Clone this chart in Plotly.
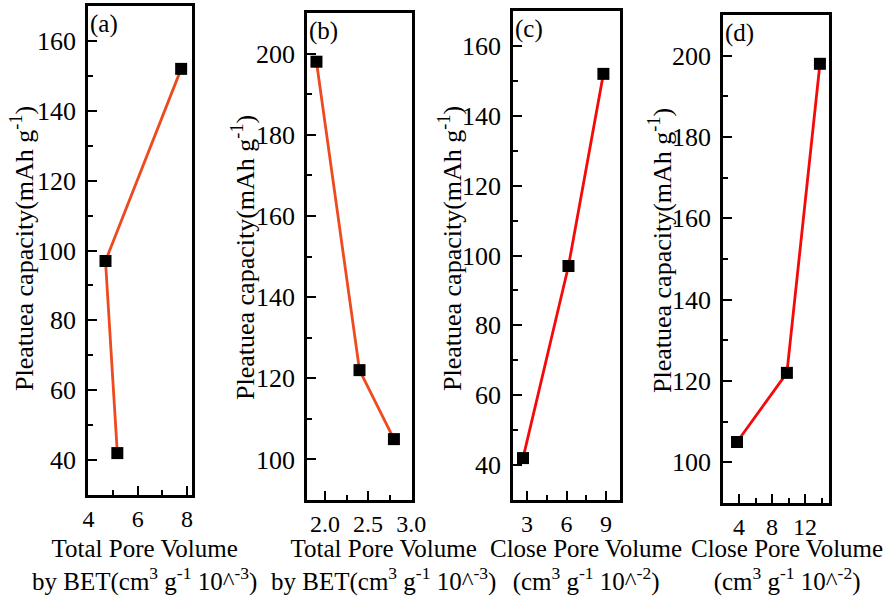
import plotly.graph_objects as go

# ---- data ----
a_x = [5.17, 4.69, 7.76]
a_y = [42, 97, 152]
b_x = [1.90, 2.40, 2.80]
b_y = [198, 122, 105]
c_x = [2.70, 6.15, 8.80]
c_y = [42, 97, 152]
d_x = [3.76, 9.80, 13.80]
d_y = [105, 122, 198]

panel_labels = ["(a)", "(b)", "(c)", "(d)"]
y_title = "Pleatuea capacity(mAh g<sup>-1</sup>)"
x_titles = [
    "Total Pore Volume<br>by BET(cm<sup>3</sup> g<sup>-1</sup> 10^<sup>-3</sup>)",
    "Total Pore Volume<br>by BET(cm<sup>3</sup> g<sup>-1</sup> 10^<sup>-3</sup>)",
    "Close Pore Volume<br>(cm<sup>3</sup> g<sup>-1</sup> 10^<sup>-2</sup>)",
    "Close Pore Volume<br>(cm<sup>3</sup> g<sup>-1</sup> 10^<sup>-2</sup>)",
]

W, H = 888, 600
FONT = "Liberation Serif"
ORANGE = "#EE4A1F"
RED = "#F50A0A"

# pixel frames (left, right, top, bottom)
frames = [(88, 192, 6, 495), (307, 412, 13, 500), (513, 620, 11, 500), (723, 829, 15, 503)]
xranges = [[3.98, 8.2], [1.79, 3.01], [1.94, 10.06], [2.06, 14.9]]
yranges = [[30, 170], [90, 210], [30, 170], [90, 210]]
xdt = [(2, 1), (0.5, 0.25), (3, 1.5), (4, 2)]
xtickfmt = ["", ".1f", "", ""]
ydt = [(20, 10), (20, 10), (20, 10), (20, 10)]
colors = [ORANGE, ORANGE, RED, RED]
data = [(a_x, a_y), (b_x, b_y), (c_x, c_y), (d_x, d_y)]

fig = go.Figure()
layout = dict(
    template="none",
    width=W, height=H,
    margin=dict(l=0, r=0, t=0, b=0, pad=0),
    paper_bgcolor="white", plot_bgcolor="white",
    showlegend=False,
    font=dict(family=FONT, size=25, color="black"),
)
annotations = []

for i in range(4):
    sfx = "" if i == 0 else str(i + 1)
    xs, ys = data[i]
    fig.add_trace(go.Scatter(
        x=xs, y=ys, mode="lines+markers",
        line=dict(color=colors[i], width=2.8),
        marker=dict(symbol="square", size=12, color="black"),
        xaxis="x" + sfx, yaxis="y" + sfx,
    ))
    l, r, t, b = frames[i]
    common = dict(
        automargin=False,
        showline=True, linecolor="black", linewidth=2.6, mirror=True,
        ticks="inside", ticklen=9, tickwidth=2.2, tickcolor="black",
        showgrid=False, zeroline=False,
    )
    layout["xaxis" + sfx] = dict(
        common, domain=[l / W, r / W], range=xranges[i],
        anchor="y" + sfx, dtick=xdt[i][0], tick0=0, tickformat=xtickfmt[i],
        tickfont=dict(family=FONT, size=24, color="black"),
        minor=dict(dtick=xdt[i][1], tick0=0, ticks="inside", ticklen=5,
                   tickwidth=2.2, tickcolor="black", showgrid=False),
    )
    layout["yaxis" + sfx] = dict(
        common, domain=[(H - b) / H, (H - t) / H], range=yranges[i],
        anchor="x" + sfx, dtick=ydt[i][0], tick0=0, ticklabelstandoff=4,
        tickfont=dict(family=FONT, size=26, color="black"),
        minor=dict(dtick=ydt[i][1], tick0=0, ticks="inside", ticklen=5,
                   tickwidth=2.2, tickcolor="black", showgrid=False),
    )
    annotations.append(dict(
        text=panel_labels[i], xref="x" + sfx + " domain", yref="y" + sfx + " domain",
        x=0, y=1, xanchor="left", yanchor="top", showarrow=False,
        font=dict(family=FONT, size=25), yshift=-2,
    ))

ytitle_pos = [(22, 249), (243, 257), (450, 249), (660, 251)]
for (px, py) in ytitle_pos:
    annotations.append(dict(
        text=y_title, xref="paper", yref="paper",
        x=px / W, y=(H - py) / H, xanchor="center", yanchor="middle",
        textangle=-90, showarrow=False, font=dict(family=FONT, size=26),
    ))

xtitle_cx = [144, 383, 586, 787]
for i, cx in enumerate(xtitle_cx):
    annotations.append(dict(
        text=x_titles[i], xref="paper", yref="paper",
        x=cx / W, y=(H - 565) / H, xanchor="center", yanchor="middle",
        showarrow=False, font=dict(family=FONT, size=25),
    ))

layout["annotations"] = annotations
fig.update_layout(**layout)
fig.write_html(
    "out.html",
    config={"displayModeBar": False},
    post_script="document.body.style.margin='0';document.body.style.padding='0';",
)
